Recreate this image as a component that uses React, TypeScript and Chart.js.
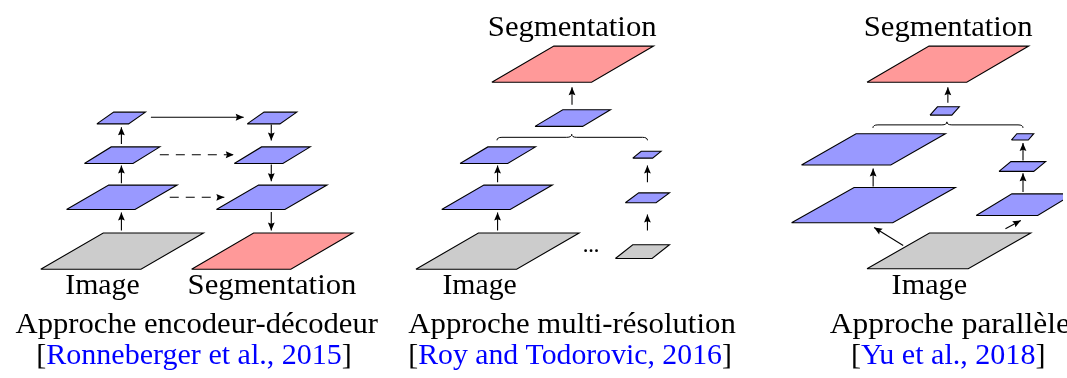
import React, { useEffect, useRef } from "react";
import { Chart, registerables } from "chart.js";

Chart.register(...registerables);

const W = 1067;
const H = 378;

// Planes: [x of bottom-left corner, y of bottom edge, width, skew, height]
const grayPlanes: number[][] = [
  [37, 271, 101, 63, 37],
  [415, 271, 101.5, 63, 37],
  [616, 260, 37, 17.5, 14],
  [869.5, 270.5, 102, 63, 36.5],
];
const redPlanes: number[][] = [
  [189, 271, 100, 62.5, 37],
  [491.5, 80, 100.5, 62.5, 37],
  [869.5, 80, 100.5, 62.5, 37],
];
const bluePlanes: number[][] = [
  // encodeur-décodeur
  [63, 210, 69, 42.5, 25],
  [81, 163, 49, 27, 17],
  [93.5, 122.5, 32, 17, 12],
  [214, 210, 69, 42.5, 25],
  [232, 163, 49, 27.5, 17],
  [245, 122.5, 33, 17, 12],
  // multi-résolution
  [535, 125, 48, 28, 17],
  [459.5, 163, 48, 28, 17],
  [441, 210, 69, 42.5, 25],
  [626, 203, 31, 13.5, 10],
  [633.5, 157.5, 20, 8.5, 7],
  // parallèle
  [933, 113.5, 22, 7.5, 8.5],
  [803.5, 164.5, 90, 55, 32],
  [793.5, 223.5, 102, 63, 36],
  [979.5, 216, 62, 36, 22],
  [1002.5, 171, 35, 12, 10],
  [1015, 139, 17, 5.5, 6.5],
];

// Arrows: [x1, y1, x2 (tip), y2 (tip)]
const solidArrows: number[][] = [
  [118.3, 231.5, 118.3, 213],
  [118.3, 183, 118.3, 165],
  [118.3, 143, 118.3, 126],
  [269.3, 123, 269.3, 139.5],
  [269.3, 164, 269.3, 181],
  [269.3, 212.5, 269.3, 231.5],
  [148, 115.7, 241.5, 115.7],
  [497.3, 231.5, 497.3, 213],
  [497.3, 182, 497.3, 165],
  [648.3, 231.5, 648.3, 215],
  [648.3, 182, 648.3, 165],
  [572.3, 103, 572.3, 85],
  [951, 101, 951, 85],
  [875.7, 186.5, 875.7, 168],
  [906, 246.7, 876.7, 228.3],
  [1009, 229.5, 1024.5, 221.2],
  [1026.7, 192, 1026.7, 173],
  [1026.7, 160, 1026.7, 142],
];
const dashedArrows: number[][] = [
  [157, 154, 231.5, 154],
  [167, 197.5, 222, 197.5],
];

// Braces: [x left, x right, x tip, y]
const braces: number[][] = [
  [496.7, 648.3, 572, 136.2],
  [875.5, 1026.7, 950, 123.5],
];

const ellipsisDots: number[][] = [
  [586, 252],
  [591.5, 252],
  [597, 252],
];

const planeLabels: string[] = ["Image", "Segmentation", "Segmentation", "Image", "Segmentation", "Image"];
const titles: string[] = ["Approche encodeur-décodeur", "Approche multi-résolution", "Approche parallèle"];
const citations: string[] = ["Ronneberger et al., 2015", "Roy and Todorovic, 2016", "Yu et al., 2018"];

// Text layout: [center x, baseline y, width]
const planeLabelLayout: number[][] = [
  [99.2, 296, 75],
  [270, 296, 170],
  [572.5, 33, 170],
  [479.2, 296, 75],
  [951.3, 33, 170],
  [932.3, 296, 76],
];
const titleLayout: number[][] = [
  [194.2, 336, 365],
  [572.3, 336, 330],
  [953, 336, 242],
];
const citationLayout: number[][] = [
  [191.5, 368, 318],
  [570.3, 368, 326],
  [951.3, 368, 196],
];

const FONT = '29.5px "Liberation Serif", "Times New Roman", serif';

function planePoints(p: number[]) {
  const [x, y, w, s, h] = p;
  return [
    { x, y },
    { x: x + w, y },
    { x: x + w + s, y: y - h },
    { x: x + s, y: y - h },
    { x, y },
  ];
}

const textPlugin = {
  id: "diagramText",
  afterDraw(chart: any) {
    const ctx: CanvasRenderingContext2D = chart.ctx;
    const xs = chart.scales.x;
    const ys = chart.scales.y;
    const drawParts = (parts: { t: string; c: string }[], lay: number[]) => {
      const [cx, by, tw] = lay;
      ctx.save();
      ctx.font = FONT;
      ctx.textBaseline = "alphabetic";
      ctx.textAlign = "left";
      const widths = parts.map((p) => ctx.measureText(p.t).width);
      const total = widths.reduce((a, b) => a + b, 0);
      const px = xs.getPixelForValue(cx);
      const py = ys.getPixelForValue(by);
      const pw = Math.abs(xs.getPixelForValue(tw) - xs.getPixelForValue(0));
      const k = pw / total;
      ctx.translate(px - pw / 2, py);
      ctx.scale(k, 1);
      let off = 0;
      parts.forEach((p, i) => {
        ctx.fillStyle = p.c;
        ctx.fillText(p.t, off, 0);
        off += widths[i];
      });
      ctx.restore();
    };
    planeLabels.forEach((t, i) => drawParts([{ t, c: "#000" }], planeLabelLayout[i]));
    titles.forEach((t, i) => drawParts([{ t, c: "#000" }], titleLayout[i]));
    citations.forEach((t, i) =>
      drawParts(
        [
          { t: "[", c: "#000" },
          { t, c: "#0000ff" },
          { t: "]", c: "#000" },
        ],
        citationLayout[i]
      )
    );
  },
};

const arrowPlugin = {
  id: "arrowHeads",
  afterDatasetsDraw(chart: any) {
    const ctx: CanvasRenderingContext2D = chart.ctx;
    const xs = chart.scales.x;
    const ys = chart.scales.y;
    ctx.save();
    ctx.fillStyle = "#000";
    [...solidArrows, ...dashedArrows].forEach((a) => {
      const x1 = xs.getPixelForValue(a[0]);
      const y1 = ys.getPixelForValue(a[1]);
      const x2 = xs.getPixelForValue(a[2]);
      const y2 = ys.getPixelForValue(a[3]);
      const ang = Math.atan2(y2 - y1, x2 - x1);
      const L = 8;
      const hw = 3.4;
      const bx = x2 - L * Math.cos(ang);
      const by = y2 - L * Math.sin(ang);
      ctx.beginPath();
      ctx.moveTo(x2, y2);
      ctx.lineTo(bx + hw * Math.sin(ang), by - hw * Math.cos(ang));
      ctx.lineTo(bx + 1.2 * Math.cos(ang), by + 1.2 * Math.sin(ang));
      ctx.lineTo(bx - hw * Math.sin(ang), by + hw * Math.cos(ang));
      ctx.closePath();
      ctx.fill();
    });
    ctx.restore();

    // braces
    ctx.save();
    ctx.strokeStyle = "#000";
    ctx.lineWidth = 1;
    braces.forEach((b) => {
      const l = xs.getPixelForValue(b[0]);
      const r = xs.getPixelForValue(b[1]);
      const t = xs.getPixelForValue(b[2]);
      const y = ys.getPixelForValue(b[3]);
      const d = 3;
      ctx.beginPath();
      ctx.moveTo(l, y + d);
      ctx.quadraticCurveTo(l, y, l + 5, y);
      ctx.lineTo(t - 5, y);
      ctx.quadraticCurveTo(t, y, t, y - d);
      ctx.quadraticCurveTo(t, y, t + 5, y);
      ctx.lineTo(r - 5, y);
      ctx.quadraticCurveTo(r, y, r, y + d);
      ctx.stroke();
    });
    ctx.restore();
  },
};

export default function App() {
  const ref = useRef<HTMLCanvasElement | null>(null);

  useEffect(() => {
    if (!ref.current) return;
    const datasets: any[] = [];
    const addPlanes = (list: number[][], color: string) => {
      list.forEach((p) =>
        datasets.push({
          data: planePoints(p),
          borderColor: "#000",
          borderWidth: 1.1,
          backgroundColor: color,
          fill: "shape",
          pointRadius: 0,
          tension: 0,
          borderJoinStyle: "miter",
        })
      );
    };
    addPlanes(grayPlanes, "#cccccc");
    addPlanes(redPlanes, "#ff9999");
    addPlanes(bluePlanes, "#9999ff");
    const addArrows = (list: number[][], dash: number[]) => {
      list.forEach((a) =>
        datasets.push({
          data: [
            { x: a[0], y: a[1] },
            { x: a[2], y: a[3] },
          ],
          borderColor: "#000",
          borderWidth: 1.1,
          borderDash: dash,
          fill: false,
          pointRadius: 0,
          tension: 0,
        })
      );
    };
    addArrows(solidArrows, []);
    addArrows(dashedArrows, [9, 7]);
    datasets.push({
      data: ellipsisDots.map((d) => ({ x: d[0], y: d[1] })),
      showLine: false,
      pointRadius: 1.4,
      pointBackgroundColor: "#000",
      pointBorderWidth: 0,
      fill: false,
    });

    const chart = new Chart(ref.current, {
      type: "line",
      data: { datasets },
      options: {
        animation: false,
        responsive: false,
        maintainAspectRatio: false,
        devicePixelRatio: 1,
        events: [],
        layout: { padding: 0 },
        plugins: {
          legend: { display: false },
          tooltip: { enabled: false },
        },
        scales: {
          x: { type: "linear", min: 0, max: W, display: false },
          y: { type: "linear", min: 0, max: H, reverse: true, display: false },
        },
      },
      plugins: [arrowPlugin, textPlugin],
    } as any);
    return () => chart.destroy();
  }, []);

  return (
    <div style={{ position: "absolute", left: 0, top: 0, width: W, height: H, background: "#fff" }}>
      <canvas ref={ref} width={W} height={H} style={{ width: W, height: H, display: "block" }} />
    </div>
  );
}
